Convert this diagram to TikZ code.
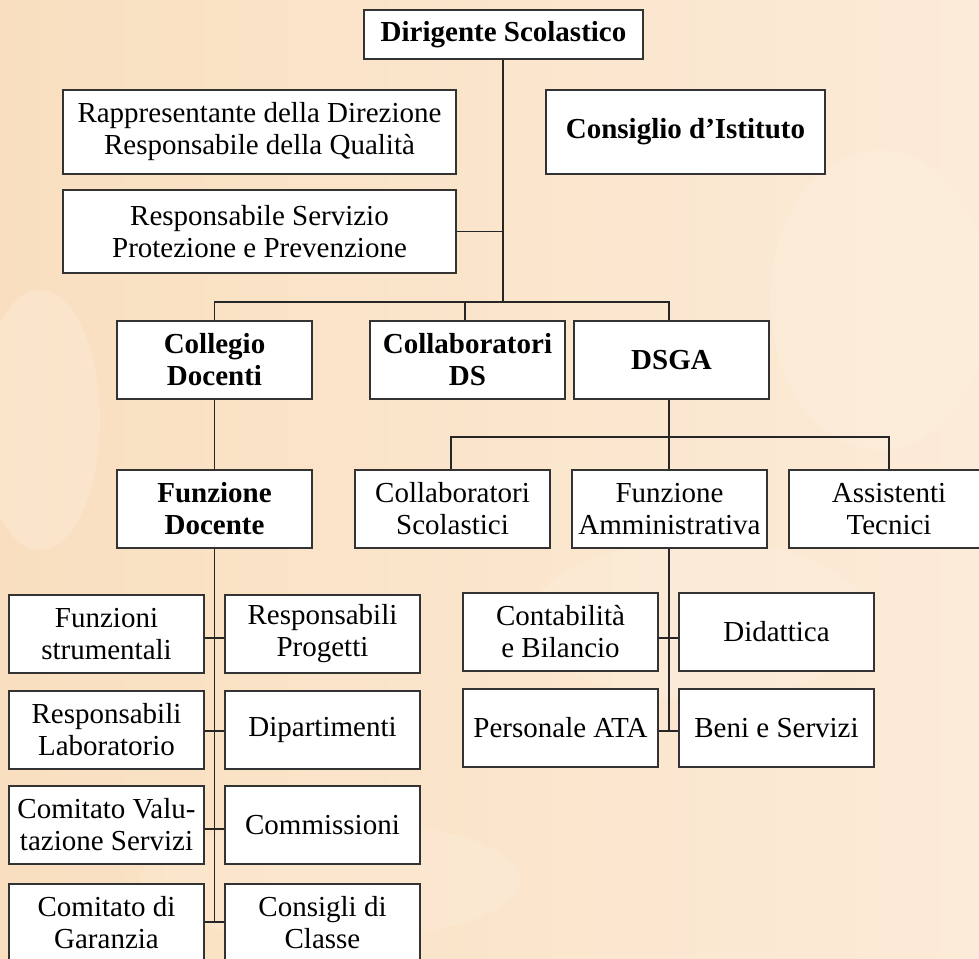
\documentclass[tikz,border=0pt]{standalone}
\usepackage{fontspec}
\setmainfont{Liberation Serif}
\definecolor{bgleft}{RGB}{249,223,192}
\definecolor{bgright}{RGB}{252,235,216}
\definecolor{blob}{RGB}{255,246,234}
\begin{document}
\begin{tikzpicture}[x=1pt,y=-1pt,
  box/.style={draw=black!80, line width=1.4pt, fill=white, rectangle, inner sep=0pt,
    align=center, minimum width=195pt, minimum height=78pt,
    font=\fontsize{29}{32}\selectfont},
  bbox/.style={box, font=\fontsize{29}{32}\selectfont\bfseries},
  conn/.style={draw=black!85, line width=1.3pt}]
\useasboundingbox (0,0) rectangle (979,958);
\clip (0,0) rectangle (979,958);
\fill[left color=bgleft, right color=bgright] (0,0) rectangle (979,958);
% soft marble patches
\fill[blob, opacity=0.25] (40,420) ellipse (60 and 130);
\fill[blob, opacity=0.2] (700,620) ellipse (170 and 80);
\fill[blob, opacity=0.2] (880,300) ellipse (110 and 150);
\fill[blob, opacity=0.2] (330,880) ellipse (190 and 60);

% top level
\node[bbox, minimum width=279pt, minimum height=49pt] (ds) at (503.5,34.5) {Dirigente Scolastico};
\node[box, minimum width=393pt, minimum height=84pt] (rdq) at (259.5,132) {Rappresentante della Direzione\\Responsabile della Qualità};
\node[box, minimum width=393pt, minimum height=83pt] (rspp) at (259.5,231.5) {Responsabile Servizio\\Protezione e Prevenzione};
\node[bbox, minimum width=279pt, minimum height=84pt] (ci) at (685.5,132) {Consiglio d’Istituto};

% second level
\node[bbox] (cd) at (214.5,360) {Collegio\\Docenti};
\node[bbox] (cds) at (467.5,360) {Collaboratori\\DS};
\node[bbox] (dsga) at (671.5,360) {DSGA};

% third level
\node[bbox] (fd) at (214.5,509) {Funzione\\Docente};
\node[box] (cs) at (452.5,509) {Collaboratori\\Scolastici};
\node[box] (fa) at (669.5,509) {Funzione\\Amministrativa};
\node[box, minimum width=200pt] (at) at (889,509) {Assistenti\\Tecnici};

% Funzione Docente children
\node[box] (fs) at (106.5,634) {Funzioni\\strumentali};
\node[box] (rp) at (322.5,634) {Responsabili\\Progetti};
\node[box] (rl) at (106.5,730) {Responsabili\\Laboratorio};
\node[box] (dip) at (322.5,730) {Dipartimenti};
\node[box] (cvs) at (106.5,825) {Comitato Valu-\\tazione Servizi};
\node[box] (com) at (322.5,825) {Commissioni};
\node[box] (cg) at (106.5,923) {Comitato di\\Garanzia};
\node[box] (cc) at (322.5,923) {Consigli di\\Classe};

% Funzione Amministrativa children
\node[box] (cb) at (560.5,632) {Contabilità\\e Bilancio};
\node[box] (did) at (776.5,632) {Didattica};
\node[box] (pata) at (560.5,728) {Personale ATA};
\node[box] (bs) at (776.5,728) {Beni e Servizi};

% buses
\coordinate (bus1) at (503,302);
\coordinate (bus2) at (669,437);

% connectors
\draw[conn] (ds.south -| bus1) -- (bus1);
\draw[conn] (rspp.east) -- (rspp.east -| bus1);
\draw[conn] (cd.north) |- (bus1) -| (dsga.north -| bus2);
\draw[conn] (cds.north -| 465,0) -- (465,302);
\draw[conn] (dsga.south -| bus2) -- (fa.north -| bus2);
\draw[conn] (cs.north -| 451,0) |- (bus2) -| (at.north);
\draw[conn] (cd.south) -- (fd.north);
\draw[conn] (fd.south) -- ([yshift=1pt]cg.east -| fd.south);
\draw[conn] ([yshift=-4pt]fs.east) -- ([yshift=-4pt]rp.west);
\draw[conn] ([yshift=-1pt]rl.east) -- ([yshift=-1pt]dip.west);
\draw[conn] ([yshift=-4pt]cvs.east) -- ([yshift=-4pt]com.west);
\draw[conn] ([yshift=1pt]cg.east) -- ([yshift=1pt]cc.west);
\draw[conn] (fa.south -| bus2) -- ([yshift=-3pt]pata.east -| bus2);
\draw[conn] ([yshift=-6pt]cb.east) -- ([yshift=-6pt]did.west);
\draw[conn] ([yshift=-3pt]pata.east) -- ([yshift=-3pt]bs.west);
\end{tikzpicture}
\end{document}
